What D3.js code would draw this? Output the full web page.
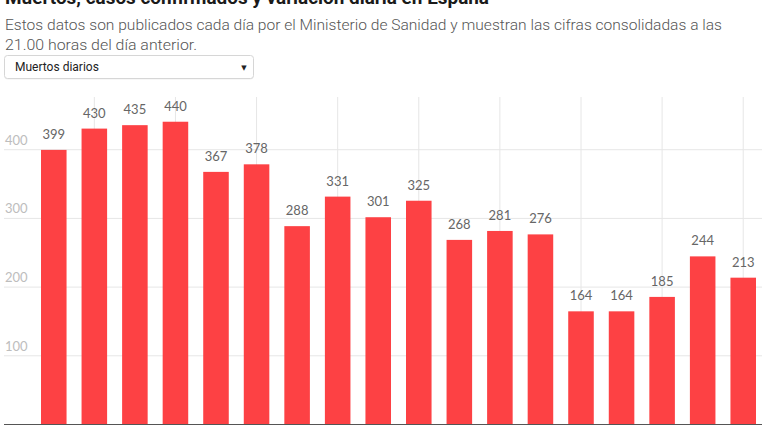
<!DOCTYPE html>
<html>
<head>
<meta charset="utf-8">
<script src="https://cdn.jsdelivr.net/npm/d3@7"></script>
<style>
  html, body { margin: 0; padding: 0; background: #fff; }
  svg { display: block; }
</style>
</head>
<body>
<svg id="chart" width="768" height="432"></svg>
<script>
const title = "Muertos, casos confirmados y variación diaria en España";
const subtitleLines = [
  "Estos datos son publicados cada día por el Ministerio de Sanidad y muestran las cifras consolidadas a las",
  "21.00 horas del día anterior."
];
const dropdownLabel = "Muertos diarios";
const categories = ["20 abr","21 abr","22 abr","23 abr","24 abr","25 abr","26 abr","27 abr","28 abr","29 abr","30 abr","1 may","2 may","3 may","4 may","5 may","6 may","7 may"];
const deaths = [399, 430, 435, 440, 367, 378, 288, 331, 301, 325, 268, 281, 276, 164, 164, 185, 244, 213];
const yTicks = [100, 200, 300, 400];

const svg = d3.select("#chart");

// Title (partly cut off at top, as in the reference)
svg.append("text")
  .attr("x", 5).attr("y", 4)
  .attr("font-family", "Roboto, 'Liberation Sans', sans-serif")
  .attr("font-weight", 700).attr("font-size", 19)
  .attr("fill", "#1a1a1a")
  .attr("textLength", 484).attr("lengthAdjust", "spacingAndGlyphs")
  .text(title);

// Subtitle
const subWidths = [717, 192];
subtitleLines.forEach((t, i) => {
  svg.append("text")
    .attr("x", 5).attr("y", 30 + i * 20)
    .attr("font-family", "Roboto, 'Liberation Sans', sans-serif")
    .attr("font-weight", 300).attr("font-size", 15.5)
    .attr("fill", "#555")
    .attr("textLength", subWidths[i]).attr("lengthAdjust", "spacingAndGlyphs")
    .text(t);
});

// Dropdown
const dd = svg.append("g");
dd.append("rect")
  .attr("x", 4.5).attr("y", 56.5).attr("width", 249).attr("height", 23)
  .attr("rx", 3).attr("fill", "#f0f0f0").attr("stroke", "none");
dd.append("rect")
  .attr("x", 4.5).attr("y", 55.5).attr("width", 249).attr("height", 23)
  .attr("rx", 3).attr("fill", "#fff")
  .attr("stroke", "#d6d6d6").attr("stroke-width", 1);
dd.append("text")
  .attr("x", 15).attr("y", 71)
  .attr("font-family", "'Liberation Sans Narrow', Roboto, sans-serif")
  .attr("font-size", 12).attr("fill", "#222")
  .text(dropdownLabel);
dd.append("text")
  .attr("x", 244).attr("y", 70).attr("text-anchor", "middle")
  .attr("font-family", "'DejaVu Sans', sans-serif")
  .attr("font-size", 7).attr("fill", "#222")
  .text("▼");

// Scales
const x = d3.scaleBand().domain(categories).range([41, 756]).paddingInner(0.37).paddingOuter(0);
const y = d3.scaleLinear().domain([0, 476]).range([424, 97]);

// Horizontal gridlines + tick labels
const yAxis = d3.axisRight(y).tickValues(yTicks).tickSize(758).tickFormat(d3.format("d"));
const ya = svg.append("g").attr("transform", "translate(4,0)").call(yAxis);
ya.select(".domain").remove();
ya.selectAll(".tick line").attr("stroke", "#e6e6e6");
ya.selectAll(".tick text")
  .attr("x", 1).attr("dy", -5).attr("text-anchor", "start")
  .attr("font-family", "Lato, 'Open Sans', sans-serif")
  .attr("font-size", 13).attr("fill", "#bdbdbd");

// Vertical gridlines at every other category
const vCats = categories.filter((d, i) => i % 2 === 1);
svg.append("g").selectAll("line").data(vCats).join("line")
  .attr("x1", d => x(d) + x.bandwidth() / 2)
  .attr("x2", d => x(d) + x.bandwidth() / 2)
  .attr("y1", y.range()[1]).attr("y2", y(0))
  .attr("stroke", "#e6e6e6");

// Bars
svg.append("g").selectAll("rect").data(deaths).join("rect")
  .attr("x", (d, i) => x(categories[i]))
  .attr("y", d => y(d))
  .attr("width", x.bandwidth())
  .attr("height", d => y(0) - y(d))
  .attr("fill", "#fd4144");

// Value labels
svg.append("g").selectAll("text").data(deaths).join("text")
  .attr("x", (d, i) => x(categories[i]) + x.bandwidth() / 2)
  .attr("y", d => y(d) - 11)
  .attr("text-anchor", "middle")
  .attr("font-family", "Lato, 'Open Sans', sans-serif")
  .attr("font-size", 13).attr("fill", "#666")
  .text(d => d);

// Baseline
svg.append("line")
  .attr("x1", 4).attr("x2", 762)
  .attr("y1", y(0) + 0.5).attr("y2", y(0) + 0.5)
  .attr("stroke", "#555").attr("stroke-width", 1);
</script>
</body>
</html>
